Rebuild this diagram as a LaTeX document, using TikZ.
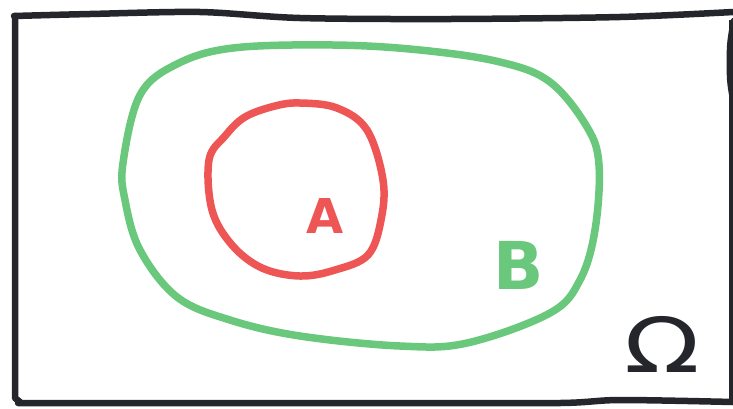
\documentclass[tikz,border=0pt]{standalone}
\usepackage{fontspec}
\setmainfont{DejaVu Sans}
\definecolor{inkblack}{HTML}{25262B}
\definecolor{setred}{HTML}{EE5555}
\definecolor{setgreen}{HTML}{69C87B}
\tikzset{
  framestroke/.style={draw=inkblack,line width=6.5pt,line cap=round,line join=round},
  setstroke/.style={line width=7.5pt,line cap=round,line join=round},
  setlabel/.style={inner sep=0pt,font=\bfseries}
}
\begin{document}
\begin{tikzpicture}[x=1pt,y=-1pt]
\useasboundingbox (0,0) rectangle (733,408);
% frame Omega
\draw[framestroke] plot[smooth,tension=0.5] coordinates {(14,16) (90,14) (200,12) (300,18) (450,19) (620,17) (733,12)};
\draw[framestroke] (15,16) -- (15,398) -- (20,402);
\draw[framestroke] plot[smooth,tension=0.5] coordinates {(18,403) (200,403) (400,403) (560,403) (620,400) (733,402)};
\draw[draw=inkblack,line width=3.5pt] (731,20) -- (731,405);
\draw[draw=inkblack,line width=4pt,line cap=round] plot[smooth,tension=0.6] coordinates {(733,20) (729,45) (729,80) (733,105)};
% set B
\draw[setstroke,draw=setgreen] plot[smooth cycle,tension=0.6] coordinates {
 (177,64) (233,48) (333,45) (420,50) (500,62) (550,82) (587,127) (599,165)
 (595,230) (580,280) (550,313) (467,343) (400,346) (300,336) (230,320) (177,297)
 (140,250) (125,200) (123,163) (140,95)};
% set A
\draw[setstroke,draw=setred] plot[smooth cycle,tension=0.6] coordinates {
 (245,117) (275,106) (300,103) (337,108) (367,130) (383,180) (381,220) (368,255)
 (335,270) (300,276) (262,268) (232,245) (212,210) (209,160) (225,136)};
% labels
\node[setlabel,text=setred,font=\bfseries\fontsize{48}{48}\selectfont] (labA) at (325,216) {A};
\node[setlabel,text=setgreen,font=\bfseries\fontsize{66}{66}\selectfont] (labB) at (519,265) {B};
\node[setlabel,text=inkblack,font=\fontsize{76}{76}\selectfont,xscale=1.3] (labO) at (662,344) {Ω};
\end{tikzpicture}
\end{document}
